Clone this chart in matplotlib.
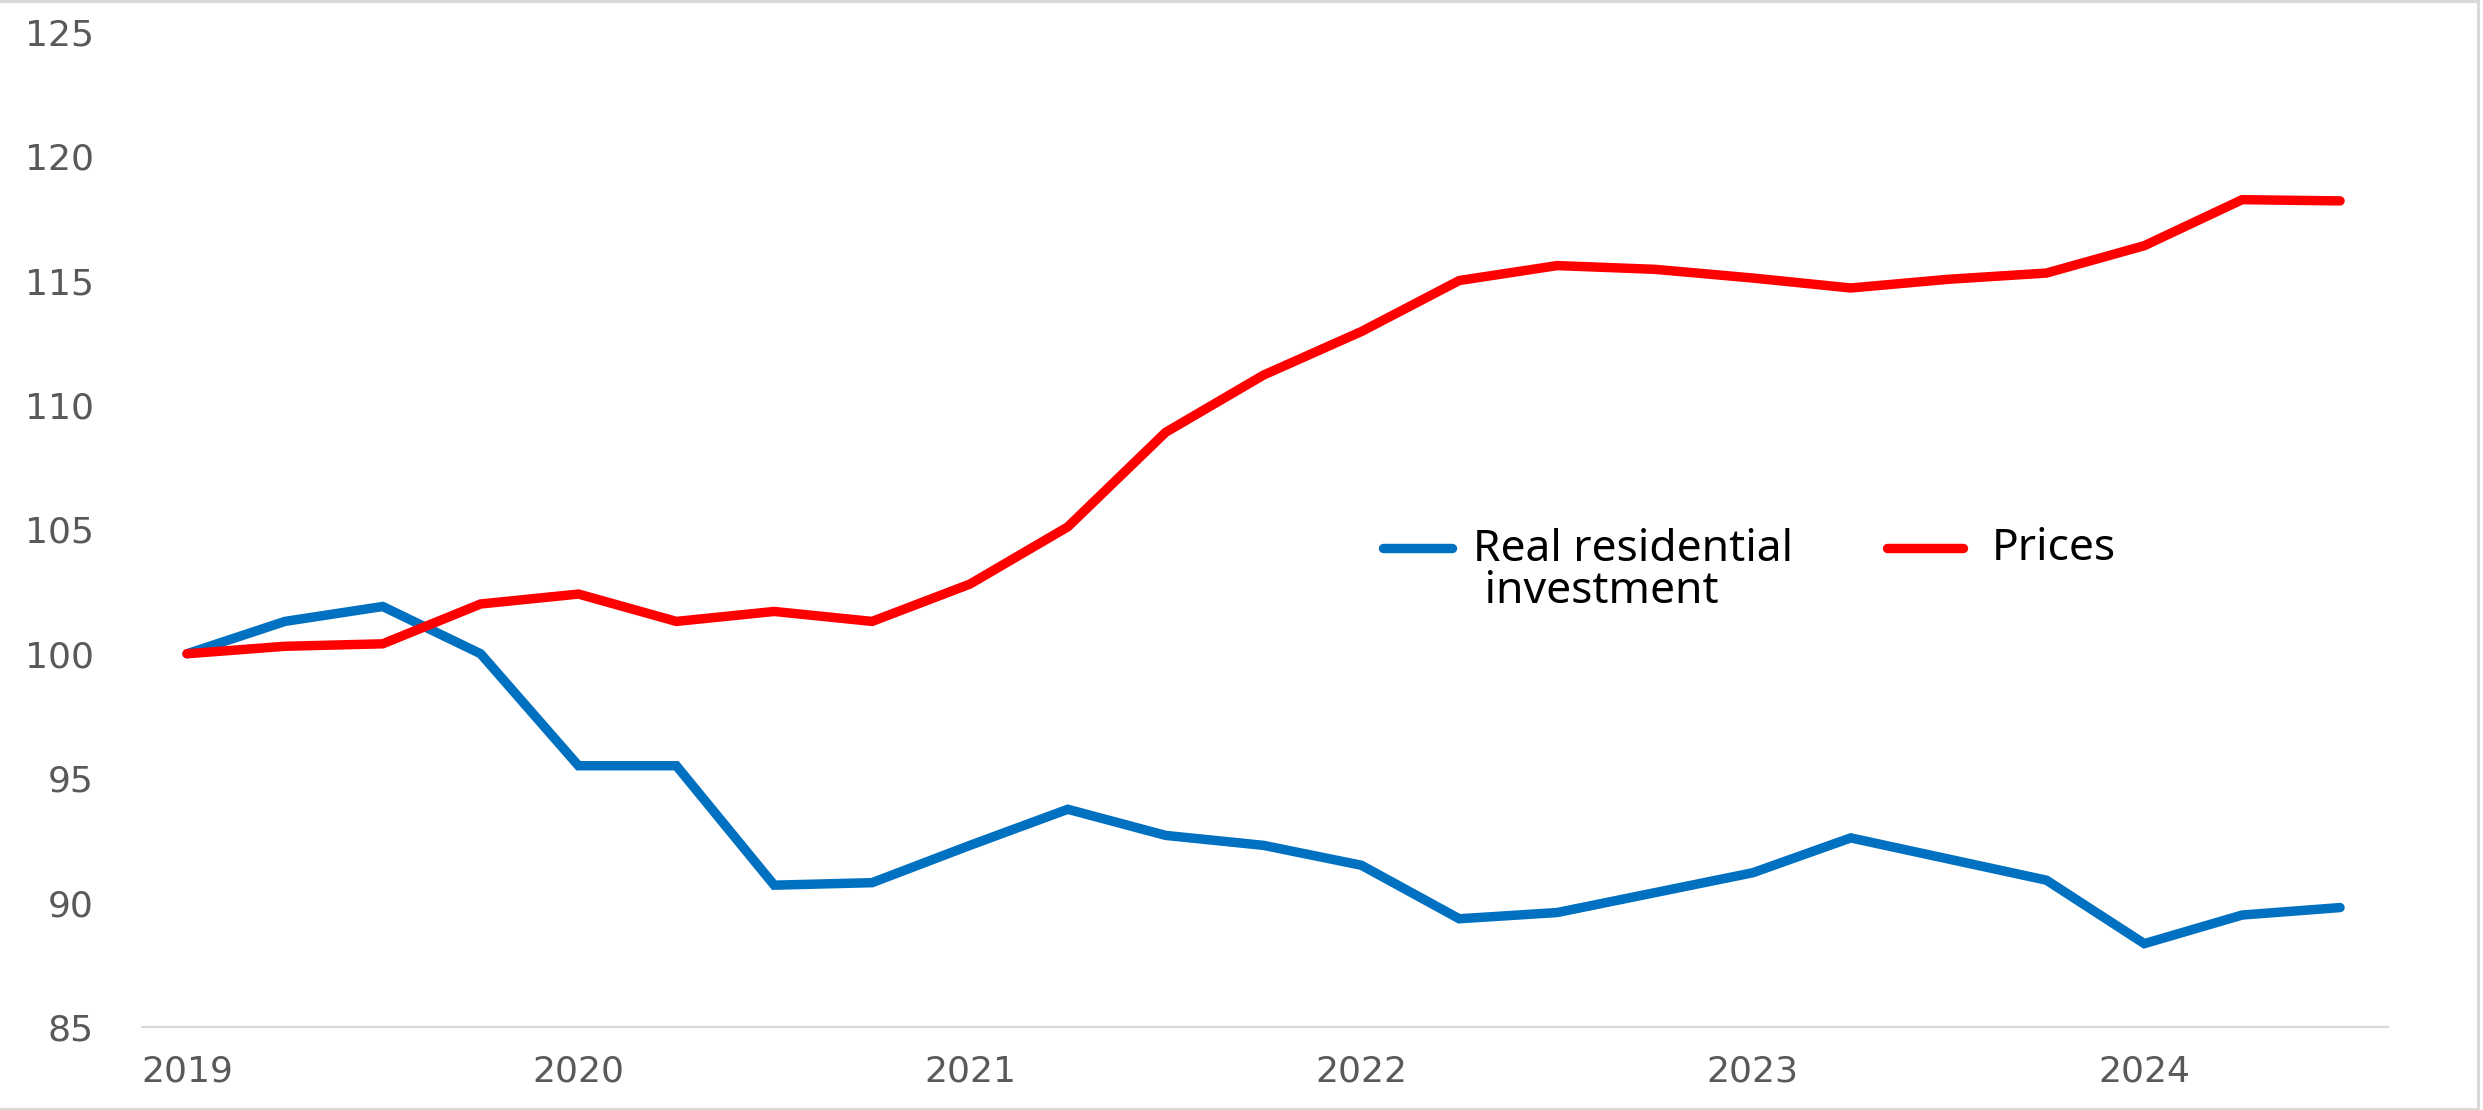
import matplotlib
matplotlib.use("Agg")
import matplotlib.pyplot as plt
from matplotlib.lines import Line2D

# Quarterly index, 2019Q1 = 100
quarters = [
    "2019Q1", "2019Q2", "2019Q3", "2019Q4",
    "2020Q1", "2020Q2", "2020Q3", "2020Q4",
    "2021Q1", "2021Q2", "2021Q3", "2021Q4",
    "2022Q1", "2022Q2", "2022Q3", "2022Q4",
    "2023Q1", "2023Q2", "2023Q3", "2023Q4",
    "2024Q1", "2024Q2", "2024Q3",
]
real_investment = [
    100.0, 101.3, 101.9, 100.0,
    95.5, 95.5, 90.7, 90.8,
    92.3, 93.75, 92.7, 92.3,
    91.5, 89.35, 89.6, 90.4,
    91.2, 92.6, 91.75, 90.9,
    88.35, 89.5, 89.8,
]
prices = [
    100.0, 100.3, 100.4, 102.0,
    102.4, 101.3, 101.7, 101.3,
    102.8, 105.1, 108.9, 111.2,
    112.95, 115.0, 115.6, 115.45,
    115.1, 114.7, 115.05, 115.3,
    116.4, 118.25, 118.2,
]
year_labels = ["2019", "2020", "2021", "2022", "2023", "2024"]
y_ticks = [85, 90, 95, 100, 105, 110, 115, 120, 125]

BLUE = "#0070C0"
RED = "#FF0000"
GRID = "#D9D9D9"
TICK_TXT = "#595959"
LW = 6.8

W, H = 2483, 1110
fig = plt.figure(figsize=(W / 100, H / 100), dpi=100)
fig.patch.set_facecolor("white")

ax = fig.add_axes([142 / W, (H - 1027) / H, (2388 - 142) / W, (1027 - 31.7) / H])

x = list(range(len(quarters)))
line_kw = dict(linewidth=LW, solid_capstyle="round", solid_joinstyle="miter")
ax.plot(x, real_investment, color=BLUE, **line_kw)
ax.plot(x, prices, color=RED, **line_kw)

ax.set_xlim(-0.46, len(quarters) - 1 + 0.49)
ax.set_ylim(85, 125)

ax.set_xticks([quarters.index(y + "Q1") for y in year_labels])
ax.set_xticklabels(year_labels)
ax.set_yticks(y_ticks)
ax.set_yticklabels([str(v) for v in y_ticks])

for lab in ax.get_xticklabels() + ax.get_yticklabels():
    lab.set_fontfamily("DejaVu Sans")
    lab.set_fontsize(26)
    lab.set_color(TICK_TXT)

ax.tick_params(axis="both", length=0)
ax.tick_params(axis="y", pad=34.5)
ax.tick_params(axis="x", pad=20)

for side in ("left", "right", "top"):
    ax.spines[side].set_visible(False)
ax.spines["bottom"].set_color(GRID)
ax.spines["bottom"].set_linewidth(1.6)

# Legend, drawn in figure pixel space
def fx(px):
    return px / W

def fy(py):
    return (H - py) / H

legend_font = dict(fontsize=32, family=["Noto Sans", "DejaVu Sans"], color="black")
fig.add_artist(Line2D([fx(1383), fx(1452)], [fy(548), fy(548)], color=BLUE,
                      linewidth=LW, solid_capstyle="round", transform=fig.transFigure))
fig.text(fx(1473), fy(603), "Real residential\n investment",
         ha="left", va="baseline", linespacing=0.95, **legend_font)
fig.add_artist(Line2D([fx(1887), fx(1963)], [fy(548), fy(548)], color=RED,
                      linewidth=LW, solid_capstyle="round", transform=fig.transFigure))
fig.text(fx(1992), fy(560), "Prices", ha="left", va="baseline", **legend_font)

# Thin light frame on top, right and bottom edges
frame_kw = dict(color=GRID, linewidth=2.2, transform=fig.transFigure)
fig.add_artist(Line2D([0, fx(2478)], [fy(1), fy(1)], **frame_kw))
fig.add_artist(Line2D([fx(2478), fx(2478)], [fy(1), fy(1109)], **frame_kw))
fig.add_artist(Line2D([0, fx(2478)], [fy(1109), fy(1109)], **frame_kw))

fig.savefig("out.png", dpi=100, facecolor="white")
